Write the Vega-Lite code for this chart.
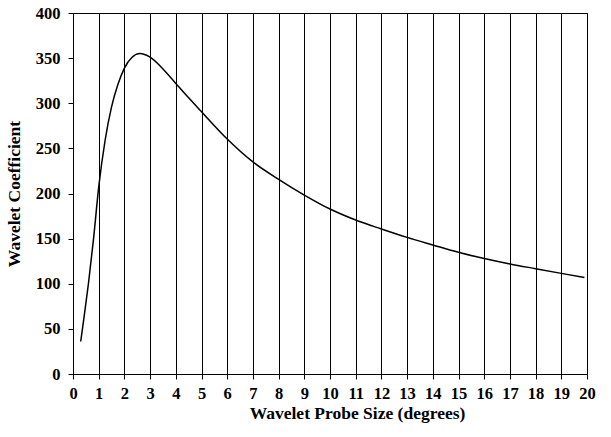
{
  "$schema": "https://vega.github.io/schema/vega-lite/v6.json",
  "width": 514,
  "height": 361,
  "autosize": "none",
  "padding": {"left": 73, "top": 13, "right": 24, "bottom": 63},
  "background": "white",
  "config": {
    "view": {"stroke": "black", "strokeWidth": 1},
    "font": "Liberation Serif"
  },
  "data": {
    "values": [
      {"x": 0.3, "y": 36},
      {"x": 0.43, "y": 63},
      {"x": 0.6, "y": 100},
      {"x": 0.8, "y": 150},
      {"x": 1.0, "y": 207},
      {"x": 1.25, "y": 259},
      {"x": 1.5, "y": 296},
      {"x": 1.75, "y": 321},
      {"x": 2.0, "y": 339},
      {"x": 2.3, "y": 351},
      {"x": 2.6, "y": 355},
      {"x": 3.0, "y": 351},
      {"x": 3.5, "y": 338},
      {"x": 4.0, "y": 322},
      {"x": 4.5, "y": 306},
      {"x": 5, "y": 290.6},
      {"x": 6, "y": 260.4},
      {"x": 7, "y": 235},
      {"x": 8, "y": 215.7},
      {"x": 9, "y": 198.3},
      {"x": 10, "y": 182.8},
      {"x": 11, "y": 170.6},
      {"x": 12, "y": 160.7},
      {"x": 13, "y": 151.4},
      {"x": 14, "y": 143},
      {"x": 15, "y": 134.8},
      {"x": 16, "y": 128},
      {"x": 17, "y": 122},
      {"x": 18, "y": 116.7},
      {"x": 19, "y": 111.5},
      {"x": 19.9, "y": 107}
    ]
  },
  "mark": {"type": "line", "interpolate": "monotone", "color": "black", "strokeWidth": 1.5},
  "encoding": {
    "x": {
      "field": "x",
      "type": "quantitative",
      "scale": {"domain": [0, 20], "nice": false, "zero": false},
      "axis": {
        "title": "Wavelet Probe Size (degrees)",
        "values": [0,1,2,3,4,5,6,7,8,9,10,11,12,13,14,15,16,17,18,19,20],
        "grid": true,
        "gridColor": "black",
        "gridOpacity": 1,
        "gridWidth": 1,
        "domainColor": "black",
        "tickColor": "black",
        "tickSize": 5,
        "labelFont": "Liberation Serif",
        "labelFontWeight": "bold",
        "labelFontSize": 16.5,
        "labelColor": "black",
        "labelPadding": 6,
        "labelFlush": false,
        "labelOverlap": false,
        "titleFont": "Liberation Serif",
        "titleFontWeight": "bold",
        "titleFontSize": 17.5,
        "titleColor": "black",
        "titlePadding": 3,
        "titleX": 284
      }
    },
    "y": {
      "field": "y",
      "type": "quantitative",
      "scale": {"domain": [0, 400], "nice": false},
      "axis": {
        "title": "Wavelet Coefficient",
        "values": [0, 50, 100, 150, 200, 250, 300, 350, 400],
        "grid": false,
        "domainColor": "black",
        "tickColor": "black",
        "tickSize": 5,
        "labelFont": "Liberation Serif",
        "labelFontWeight": "bold",
        "labelFontSize": 16.5,
        "labelColor": "black",
        "labelPadding": 8,
        "labelFlush": false,
        "titleFont": "Liberation Serif",
        "titleFontWeight": "bold",
        "titleFontSize": 17.5,
        "titleColor": "black",
        "titlePadding": 12
      }
    }
  }
}
